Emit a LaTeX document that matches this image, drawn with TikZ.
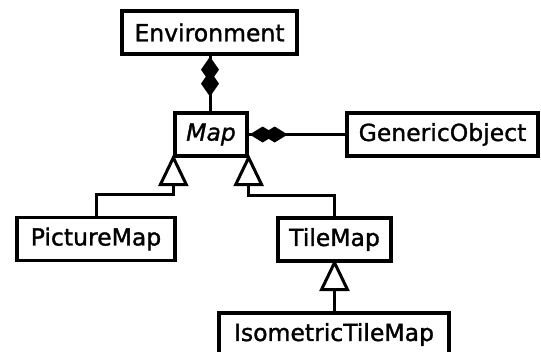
\documentclass[tikz,border=0pt]{standalone}
\usepackage{fontspec}
\setmainfont[FakeBold=1.3]{DejaVu Sans}
\usetikzlibrary{calc}
\begin{document}
\begin{tikzpicture}[x=1pt,y=-1pt,
  cls/.style={draw, line width=3.3pt, fill=white, inner sep=0pt, minimum height=43pt,
    font=\fontsize{23.5}{28}\selectfont},
  conn/.style={line width=3pt},
  tri/.style={line width=3pt, fill=white, line join=miter}
]
\useasboundingbox (0,0) rectangle (541,351);
\clip (0,0) rectangle (541,351);
% classes
\node[cls, minimum width=175pt] (env) at (209.5,32.5) {Environment};
\node[cls, minimum width=72pt] (map) at (211,134.5) {\itshape Map};
\node[cls, minimum width=191pt] (gen) at (442.5,134.5) {GenericObject};
\node[cls, minimum width=158pt] (pic) at (96,239) {PictureMap};
\node[cls, minimum width=113pt] (tile) at (334.5,239.5) {TileMap};
\node[cls, minimum width=230pt] (iso) at (334,334.5) {IsometricTileMap};
% composition Environment - Map
\draw[conn] (env.south -| 210,0) -- (map.north -| 210,0);
\fill ($(env.south -| 210,0)+(0,1)$) -- ++(9,13) -- ++(-9,13) -- ++(-9,-13) -- cycle;
\fill ($(env.south -| 210,0)+(0,15)$) -- ++(9,13) -- ++(-9,13) -- ++(-9,-13) -- cycle;
% composition Map - GenericObject
\draw[conn] (map.east) -- (gen.west);
\fill ($(map.east)+(1,0)$) -- ++(13,-8) -- ++(13,8) -- ++(-13,8) -- cycle;
\fill ($(map.east)+(13,0)$) -- ++(13,-8) -- ++(13,8) -- ++(-13,8) -- cycle;
% generalisation PictureMap -> Map
\draw[conn] (pic.north) -- ++(0,-21) -| ($(map.south west)+(0,27)$);
\draw[tri] (map.south west) -- ++(-13,27) -- ++(26,0) -- cycle;
% generalisation TileMap -> Map
\draw[conn] (tile.north) -- ++(0,-21) -| ($(map.south east)+(0,27)$);
\draw[tri] (map.south east) -- ++(-13,27) -- ++(26,0) -- cycle;
% generalisation IsometricTileMap -> TileMap
\draw[conn] (iso.north -| tile.south) -- ($(tile.south)+(0,27)$);
\draw[tri] (tile.south) -- ++(-13,27) -- ++(26,0) -- cycle;
\end{tikzpicture}
\end{document}
